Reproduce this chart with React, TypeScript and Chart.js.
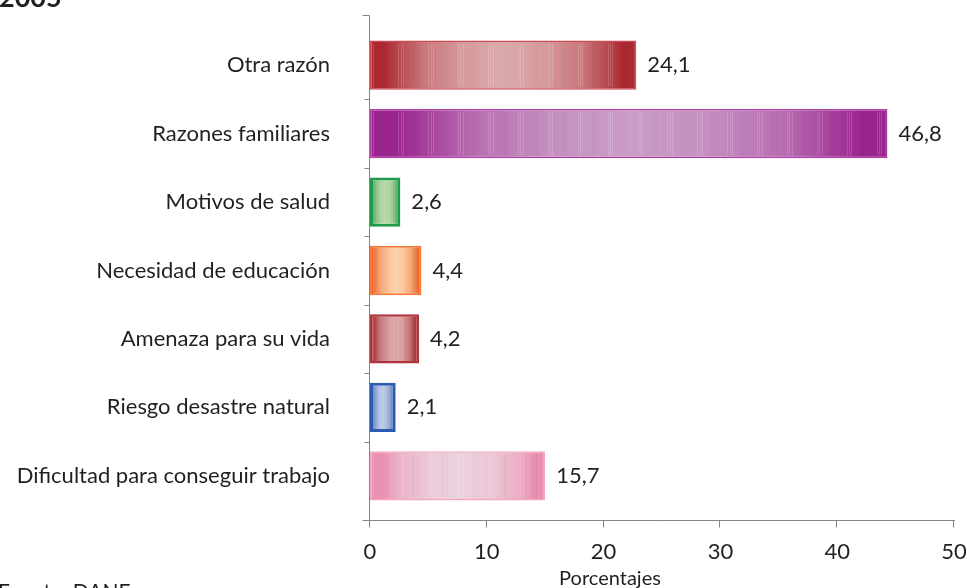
import React, { useEffect, useRef } from "react";
import { Chart, registerables } from "chart.js";

Chart.register(...registerables);

const categories = [
  "Otra razón",
  "Razones familiares",
  "Motivos de salud",
  "Necesidad de educación",
  "Amenaza para su vida",
  "Riesgo desastre natural",
  "Dificultad para conseguir trabajo",
];
// bar lengths as drawn in the reference
const barLengths = [22.8, 44.3, 2.6, 4.4, 4.2, 2.2, 15.0];
// value labels as printed in the reference
const valueLabels = ["24,1", "46,8", "2,6", "4,4", "4,2", "2,1", "15,7"];
const xTicks = [0, 10, 20, 30, 40, 50];

const edgeColors = ["#ad2932", "#9b258f", "#3a9a4a", "#f0662a", "#a72b33", "#2e5ead", "#eb90b2"];
const centerColors = ["#dcaaab", "#cb9dc7", "#bedcae", "#fcd2aa", "#ddaaaa", "#c2cee9", "#ecd2de"];
const borderColors = ["#cc4a52", "#b03ea6", "#1e9a4a", "#f47838", "#b0343c", "#2b5bb0", "#f2a6c2"];
const borderWidths = [1.5, 1.5, 3, 2, 2.5, 3, 1.5];

const titleText = "2005";
const sourceText = "Fuente: DANE";
const axisTitle = "Porcentajes";

const FONT = "Lato, 'Open Sans', sans-serif";
const TEXT = "#231f20";
const AXIS = "#858585";

function hexToRgb(h: string) {
  const v = parseInt(h.slice(1), 16);
  return [(v >> 16) & 255, (v >> 8) & 255, v & 255];
}
function mix(a: string, b: string, t: number) {
  const A = hexToRgb(a);
  const B = hexToRgb(b);
  const c = A.map((x, i) => Math.round(x + (B[i] - x) * t));
  return `rgb(${c[0]},${c[1]},${c[2]})`;
}

const decorPlugin = {
  id: "decor",
  afterDatasetsDraw(chart: any) {
    const ctx = chart.ctx;
    const meta = chart.getDatasetMeta(0);
    ctx.save();
    meta.data.forEach((bar: any) => {
      const x0 = bar.base;
      const x1 = bar.x;
      const h = bar.height;
      const top = bar.y - h / 2 + 3;
      const bot = bar.y + h / 2 - 3;
      const w = x1 - x0;
      // thin vertical stripes to mimic the banded fill
      for (let k = 0; x0 + 3 + k * 2.3 < x1 - 3; k++) {
        const x = x0 + 3 + k * 2.3;
        const s = (k * 37) % 13;
        if (s > 5) continue;
        const t = (x - x0) / w;
        const d = Math.abs(t - 0.5) * 2;
        ctx.strokeStyle = s % 2 === 0 ? "rgba(255,255,255,0.2)" : `rgba(0,0,0,${0.03 + 0.04 * d})`;
        ctx.lineWidth = 0.8;
        ctx.beginPath();
        ctx.moveTo(Math.round(x) + 0.5, top);
        ctx.lineTo(Math.round(x) + 0.5, bot);
        ctx.stroke();
      }
    });
    ctx.restore();
  },
  afterDraw(chart: any) {
    const ctx = chart.ctx;
    const xs = chart.scales.x;
    const ys = chart.scales.y;
    const area = chart.chartArea;
    const axX = Math.round(xs.getPixelForValue(0)) - 0.5;
    const axY = area.bottom + 10.5;
    ctx.save();
    ctx.strokeStyle = AXIS;
    ctx.lineWidth = 1;
    // y axis line
    ctx.beginPath();
    ctx.moveTo(axX, 15.5);
    ctx.lineTo(axX, axY);
    ctx.moveTo(axX - 7, 15.5);
    ctx.lineTo(axX, 15.5);
    ctx.stroke();
    // category boundary ticks
    const n = categories.length;
    for (let i = 1; i < n; i++) {
      const y = Math.round((ys.getPixelForValue(i - 1) + ys.getPixelForValue(i)) / 2) + 0.5;
      ctx.beginPath();
      ctx.moveTo(axX - 5, y);
      ctx.lineTo(axX, y);
      ctx.stroke();
    }
    // x axis line and ticks
    ctx.beginPath();
    ctx.moveTo(axX - 7, axY);
    ctx.lineTo(xs.getPixelForValue(50) + 1, axY);
    ctx.stroke();
    xTicks.forEach((v) => {
      const x = Math.round(xs.getPixelForValue(v)) - 0.5;
      ctx.beginPath();
      ctx.moveTo(x, axY);
      ctx.lineTo(x, axY + 7);
      ctx.stroke();
    });
    // value labels
    ctx.fillStyle = TEXT;
    ctx.font = `22px ${FONT}`;
    ctx.textAlign = "left";
    ctx.textBaseline = "middle";
    const meta = chart.getDatasetMeta(0);
    meta.data.forEach((bar: any, i: number) => {
      ctx.fillText(valueLabels[i], bar.x + 11, bar.y);
    });
    // axis title
    ctx.textAlign = "center";
    ctx.textBaseline = "alphabetic";
    ctx.font = `20px ${FONT}`;
    ctx.fillText(axisTitle, 610, 585);
    // header and source (cut by the frame)
    ctx.textAlign = "left";
    ctx.font = `bold 27px ${FONT}`;
    ctx.fillText(titleText, -1, 7);
    ctx.font = `21px ${FONT}`;
    ctx.fillText(sourceText, -2, 599);
    ctx.restore();
  },
};

export default function App() {
  const ref = useRef<HTMLCanvasElement | null>(null);
  useEffect(() => {
    if (!ref.current) return;
    const chart = new Chart(ref.current, {
      type: "bar",
      data: {
        labels: categories,
        datasets: [
          {
            data: barLengths,
            backgroundColor: (c: any) => {
              const i = c.dataIndex;
              if (i === undefined) return edgeColors[0];
              const chart = c.chart;
              const xs = chart.scales && chart.scales.x;
              if (!xs || !chart.chartArea) return edgeColors[i];
              const x0 = xs.getPixelForValue(0);
              const x1 = xs.getPixelForValue(barLengths[i]);
              const g = chart.ctx.createLinearGradient(x0, 0, x1, 0);
              const e = edgeColors[i];
              const m = centerColors[i];
              g.addColorStop(0, e);
              g.addColorStop(0.05, e);
              g.addColorStop(0.2, mix(e, m, 0.6));
              g.addColorStop(0.35, mix(e, m, 0.88));
              g.addColorStop(0.5, m);
              g.addColorStop(0.65, mix(e, m, 0.88));
              g.addColorStop(0.8, mix(e, m, 0.6));
              g.addColorStop(0.95, e);
              g.addColorStop(1, e);
              return g;
            },
            borderColor: borderColors,
            borderWidth: borderWidths,
            borderSkipped: false,
            barPercentage: 0.72,
            categoryPercentage: 1,
          },
        ],
      },
      options: {
        indexAxis: "y",
        animation: false,
        responsive: false,
        maintainAspectRatio: false,
        events: [],
        layout: { padding: { top: 31, right: 13, left: 0, bottom: 0 } },
        plugins: {
          legend: { display: false },
          tooltip: { enabled: false },
          title: { display: false },
        },
        scales: {
          x: {
            type: "linear",
            min: 0,
            max: 50,
            ticks: {
              stepSize: 10,
              color: TEXT,
              font: { family: FONT, size: 22 },
              padding: 0,
            },
            grid: { display: false, drawTicks: true, tickLength: 29 },
            border: { display: false },
            afterFit: (s: any) => {
              s.height = 78;
            },
          },
          y: {
            type: "category",
            ticks: {
              color: TEXT,
              font: { family: FONT, size: 22 },
              padding: 0,
            },
            grid: { display: false, drawTicks: true, tickLength: 40 },
            border: { display: false },
            afterFit: (s: any) => {
              s.width = 370;
            },
          },
        },
      },
      plugins: [decorPlugin],
    } as any);
    return () => chart.destroy();
  }, []);
  return (
    <div style={{ position: "fixed", left: 0, top: 0, width: 967, height: 588, background: "#fff" }}>
      <canvas ref={ref} width={967} height={588} style={{ display: "block" }} />
    </div>
  );
}
